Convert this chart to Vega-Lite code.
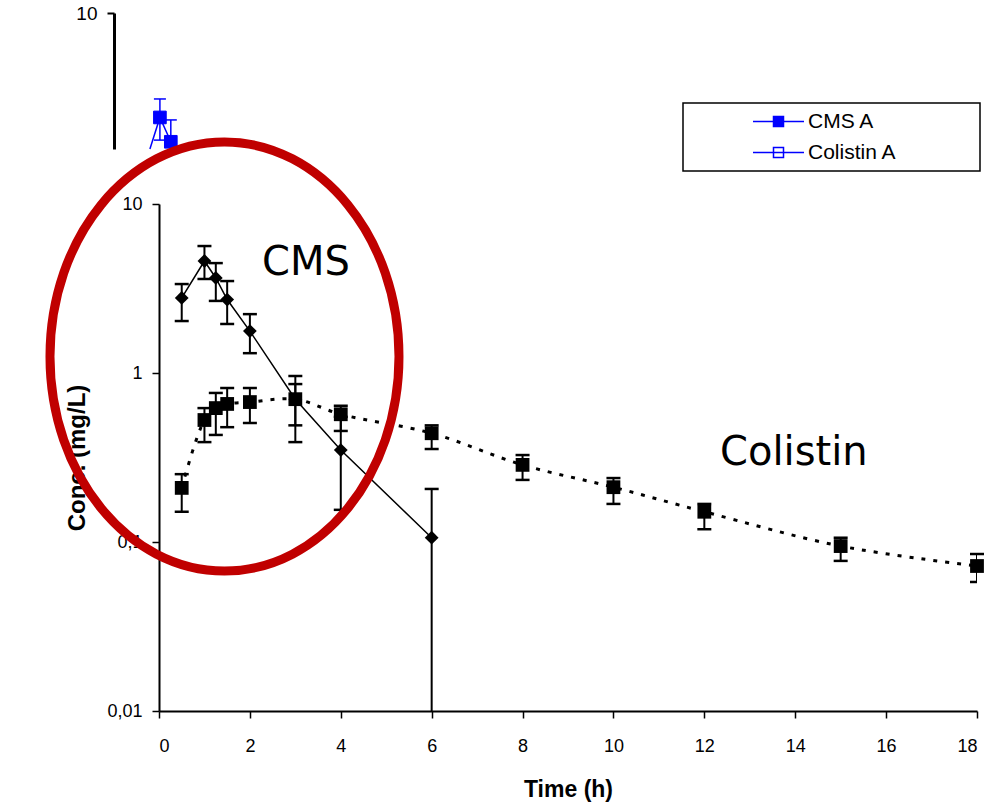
{
  "$schema": "https://vega.github.io/schema/vega-lite/v6.json",
  "padding": {"left": 31, "top": 4, "right": 2, "bottom": 5},
  "background": "white",
  "bounds": "flush",
  "spacing": 55,
  "config": {
    "view": {"stroke": null},
    "legend": {"strokeWidth": 1.5},
    "axis": {"grid": false, "domainColor": "black", "tickColor": "black", "labelColor": "black", "titleColor": "black", "labelFont": "Liberation Sans", "titleFont": "Liberation Sans", "labelFontSize": 18, "titleFontSize": 23, "titleFontWeight": "bold"}
  },
  "resolve": {"legend": {"fill": "independent"}},
  "datasets": {
    "bg": [
      {"s": "CMS A", "t": -0.2, "c": 1.568, "lo": null, "hi": null},
      {"s": "CMS A", "t": 0.02, "c": 2.41, "lo": 1.77, "hi": 3.1},
      {"s": "CMS A", "t": 0.26, "c": 1.73, "lo": 1.568, "hi": 2.33}
    ],
    "main": [
      {"s": "CMS", "t": 0.5, "c": 2.78, "lo": 2.03, "hi": 3.36},
      {"s": "CMS", "t": 1.0, "c": 4.6, "lo": 3.6, "hi": 5.64},
      {"s": "CMS", "t": 1.25, "c": 3.65, "lo": 2.67, "hi": 4.47},
      {"s": "CMS", "t": 1.5, "c": 2.72, "lo": 1.95, "hi": 3.5},
      {"s": "CMS", "t": 2.0, "c": 1.77, "lo": 1.31, "hi": 2.23},
      {"s": "CMS", "t": 3.0, "c": 0.7, "lo": 0.39, "hi": 0.96},
      {"s": "CMS", "t": 4.0, "c": 0.35, "lo": 0.155, "hi": 0.55},
      {"s": "CMS", "t": 6.0, "c": 0.106, "lo": 0.006, "hi": 0.206},
      {"s": "Colistin", "t": 0.5, "c": 0.209, "lo": 0.151, "hi": 0.252},
      {"s": "Colistin", "t": 1.0, "c": 0.527, "lo": 0.39, "hi": 0.62},
      {"s": "Colistin", "t": 1.25, "c": 0.62, "lo": 0.43, "hi": 0.762},
      {"s": "Colistin", "t": 1.5, "c": 0.656, "lo": 0.478, "hi": 0.815},
      {"s": "Colistin", "t": 2.0, "c": 0.673, "lo": 0.506, "hi": 0.815},
      {"s": "Colistin", "t": 3.0, "c": 0.7, "lo": 0.49, "hi": 0.86},
      {"s": "Colistin", "t": 4.0, "c": 0.57, "lo": 0.454, "hi": 0.64},
      {"s": "Colistin", "t": 6.0, "c": 0.44, "lo": 0.355, "hi": 0.49},
      {"s": "Colistin", "t": 8.0, "c": 0.286, "lo": 0.233, "hi": 0.327},
      {"s": "Colistin", "t": 10.0, "c": 0.211, "lo": 0.168, "hi": 0.239},
      {"s": "Colistin", "t": 12.0, "c": 0.151, "lo": 0.119, "hi": 0.168},
      {"s": "Colistin", "t": 15.0, "c": 0.0946, "lo": 0.0773, "hi": 0.106},
      {"s": "Colistin", "t": 18.0, "c": 0.0721, "lo": 0.058, "hi": 0.0849}
    ],
    "notes": [
      {"label": "CMS", "t": 3.235, "c": 4.48},
      {"label": "Colistin", "t": 13.97, "c": 0.336}
    ],
    "ring": [
      {"t": 1.441, "c": 1.252}
    ]
  },
  "vconcat": [
    {
      "width": 818,
      "height": 136,
      "data": {"name": "bg"},
      "layer": [
        {
          "mark": {"type": "line", "color": "#0000FF", "strokeWidth": 1.5},
          "encoding": {
            "x": {"field": "t", "type": "quantitative", "scale": {"domain": [0, 18], "nice": false}, "axis": null},
            "y": {"field": "c", "type": "quantitative", "scale": {"type": "log", "domain": [1.568, 10], "nice": false},
                  "axis": {"values": [10], "offset": 45, "title": null, "domainWidth": 3, "tickSize": 7, "tickWidth": 2, "labelPadding": 10, "labelFontSize": 19}}
          }
        },
        {
          "transform": [{"filter": "datum.hi != null"}],
          "mark": {"type": "rule", "color": "#0000FF", "strokeWidth": 1.5},
          "encoding": {
            "x": {"field": "t", "type": "quantitative"},
            "y": {"field": "lo", "type": "quantitative"},
            "y2": {"field": "hi"}
          }
        },
        {
          "transform": [{"filter": "datum.hi != null"}],
          "mark": {"type": "tick", "orient": "horizontal", "color": "#0000FF", "size": 12, "thickness": 1.5, "opacity": 1},
          "encoding": {
            "x": {"field": "t", "type": "quantitative"},
            "y": {"field": "hi", "type": "quantitative"}
          }
        },
        {
          "transform": [{"filter": "datum.lo > 1.6"}],
          "mark": {"type": "tick", "orient": "horizontal", "color": "#0000FF", "size": 12, "thickness": 1.5, "opacity": 1},
          "encoding": {
            "x": {"field": "t", "type": "quantitative"},
            "y": {"field": "lo", "type": "quantitative"}
          }
        },
        {
          "transform": [{"filter": "datum.hi != null"}],
          "mark": {"type": "point", "shape": "square", "filled": true, "size": 160, "stroke": "#0000FF", "strokeWidth": 1, "opacity": 1},
          "encoding": {
            "x": {"field": "t", "type": "quantitative"},
            "y": {"field": "c", "type": "quantitative"},
            "fill": {
              "field": "s", "type": "nominal",
              "scale": {"domain": ["CMS A", "Colistin A"], "range": ["#0000FF", "#FFFFFF"]},
              "legend": {
                "title": null, "orient": "none", "legendX": 524, "legendY": 90, "direction": "vertical",
                "strokeColor": "black", "fillColor": "white", "padding": 8,
                "symbolType": "M -5.1 0 L 5.1 0 M -1 -1 L 1 -1 L 1 1 L -1 1 Z",
                "symbolSize": 100, "symbolStrokeColor": "#0000FF", "symbolStrokeWidth": 1.5,
                "symbolOffset": 77, "labelOffset": 19, "labelFont": "Liberation Sans", "labelFontSize": 21,
                "labelColor": "black", "rowPadding": 9, "labelLimit": 400,
                "labelExpr": "datum.label == 'Colistin A' ? datum.label + '\u2800\u2800\u2800\u2800\u2800' : datum.label"
              }
            }
          }
        }
      ]
    },
    {
      "width": 818,
      "height": 507,
      "layer": [
        {
          "data": {"name": "main"},
          "transform": [{"filter": "datum.s == 'Colistin'"}],
          "mark": {"type": "line", "interpolate": "catmull-rom", "color": "black", "strokeWidth": 3, "strokeDash": [4, 8]},
          "encoding": {
            "x": {"field": "t", "type": "quantitative", "scale": {"domain": [0, 18], "nice": false},
                  "axis": {"values": [0, 2, 4, 6, 8, 10, 12, 14, 16, 18], "title": "Time (h)", "tickSize": 7, "tickWidth": 1.5, "domainWidth": 2, "labelPadding": 19, "titlePadding": 23}},
            "y": {"field": "c", "type": "quantitative", "scale": {"type": "log", "domain": [0.01, 10], "nice": false},
                  "axis": {"values": [0.01, 0.1, 1, 10], "labelExpr": "replace(toString(datum.value), '.', ',')", "title": "Conc. (mg/L)", "titleFontSize": 24, "tickSize": 7, "tickWidth": 1.5, "domainWidth": 2, "labelPadding": 10, "titlePadding": 17}}
          }
        },
        {
          "data": {"name": "main"},
          "transform": [{"filter": "datum.s == 'CMS'"}],
          "mark": {"type": "line", "color": "black", "strokeWidth": 1.5},
          "encoding": {
            "x": {"field": "t", "type": "quantitative"},
            "y": {"field": "c", "type": "quantitative"}
          }
        },
        {
          "data": {"name": "main"},
          "mark": {"type": "rule", "color": "black", "strokeWidth": 2, "clip": true},
          "encoding": {
            "x": {"field": "t", "type": "quantitative"},
            "y": {"field": "lo", "type": "quantitative"},
            "y2": {"field": "hi"}
          }
        },
        {
          "data": {"name": "main"},
          "mark": {"type": "tick", "orient": "horizontal", "color": "black", "size": 14, "thickness": 2.5, "opacity": 1},
          "encoding": {
            "x": {"field": "t", "type": "quantitative"},
            "y": {"field": "hi", "type": "quantitative"}
          }
        },
        {
          "data": {"name": "main"},
          "mark": {"type": "tick", "orient": "horizontal", "color": "black", "size": 14, "thickness": 2.5, "opacity": 1, "clip": true},
          "encoding": {
            "x": {"field": "t", "type": "quantitative"},
            "y": {"field": "lo", "type": "quantitative"}
          }
        },
        {
          "data": {"name": "main"},
          "mark": {"type": "point", "filled": true, "size": 190, "color": "black", "opacity": 1},
          "encoding": {
            "x": {"field": "t", "type": "quantitative"},
            "y": {"field": "c", "type": "quantitative"},
            "shape": {"field": "s", "type": "nominal", "scale": {"domain": ["CMS", "Colistin"], "range": ["diamond", "square"]}, "legend": null}
          }
        },
        {
          "data": {"name": "notes"},
          "mark": {"type": "text", "font": "DejaVu Sans", "fontSize": 40, "color": "black"},
          "encoding": {
            "x": {"field": "t", "type": "quantitative"},
            "y": {"field": "c", "type": "quantitative"},
            "text": {"field": "label"}
          }
        },
        {
          "data": {"name": "ring"},
          "mark": {"type": "point", "shape": "M -0.8135 0 A 0.8135 1 0 1 1 0.8135 0 A 0.8135 1 0 1 1 -0.8135 0 Z", "size": 184041, "filled": false, "stroke": "#C00000", "strokeWidth": 9, "opacity": 1},
          "encoding": {
            "x": {"field": "t", "type": "quantitative"},
            "y": {"field": "c", "type": "quantitative"}
          }
        }
      ]
    }
  ]
}
